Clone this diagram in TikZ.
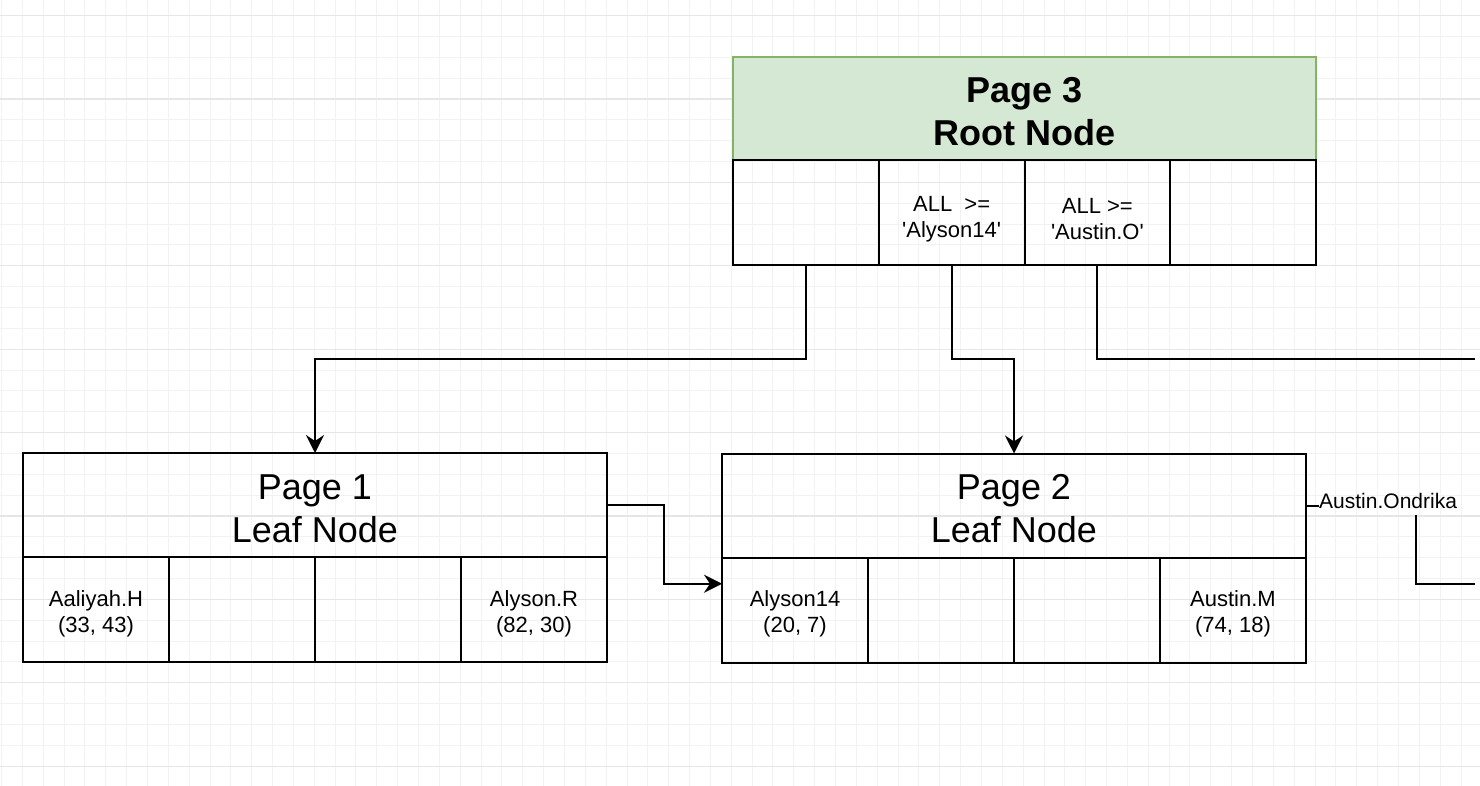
\documentclass[tikz,border=0pt]{standalone}
\usepackage{fontspec}
\setmainfont{Liberation Sans}
\usetikzlibrary{arrows.meta,calc,positioning}

\definecolor{rootfill}{HTML}{D5E8D4}
\definecolor{rootline}{HTML}{82B366}
\definecolor{gridminor}{HTML}{F2F2F2}
\definecolor{gridmajor}{HTML}{E6E6E6}

% struts that push the text down a little
\newcommand{\headstrut}{\rule{0pt}{32pt}}
\newcommand{\cellstrut}{\rule{0pt}{24pt}}
\newcommand{\keystrut}{\rule{0pt}{29pt}}

\tikzset{
  head/.style={draw=black, line width=2pt, minimum width=584pt, minimum height=104pt,
    inner sep=0pt, outer sep=0pt, align=center, font=\fontsize{36}{43}\selectfont},
  roothead/.style={head, fill=rootfill, draw=rootline, minimum width=583pt, minimum height=103pt,
    font=\bfseries\fontsize{36}{43}\selectfont},
  cell/.style={draw=black, line width=2pt, minimum width=146pt, minimum height=105pt,
    inner sep=0pt, outer sep=0pt, align=center, font=\fontsize{22}{26}\selectfont},
  rootcell/.style={cell, minimum width=145.75pt},
  link/.style={line width=2pt, -{Stealth[length=18pt,width=18pt,inset=6pt]}},
  plain/.style={line width=2pt},
}

\begin{document}
\begin{tikzpicture}[x=1pt,y=-1pt]
  \useasboundingbox (0,0) rectangle (1480,786);
  \fill[white] (0,0) rectangle (1480,786);
  % background grid
  \begin{scope}
    \clip (0,0) rectangle (1480,786);
    \draw[gridminor, line width=1pt, step=20.85pt, shift={(1.5,15.6)}] (-42,-42) grid (1500,800);
    \foreach \k in {0,...,9}
      \draw[gridmajor, line width=1.2pt] (0,15.6+83.4*\k) -- (1480,15.6+83.4*\k);
  \end{scope}

  % root page
  \node[roothead] (root) at (1024.5,108.5) {\headstrut Page 3\\Root Node};
  \node[rootcell, anchor=north west] (r0) at (root.south west) {};
  \node[rootcell, right=0pt of r0] (r1) {\keystrut ALL\ \ >=\\\textquotesingle Alyson14\textquotesingle};
  \node[rootcell, right=0pt of r1] (r2) {\keystrut ALL >=\\\textquotesingle Austin.O\textquotesingle};
  \node[rootcell, right=0pt of r2] (r3) {};

  % leaf page 1
  \node[head] (p1) at (315,505) {\headstrut Page 1\\Leaf Node};
  \node[cell, anchor=north west] (a0) at (p1.south west) {\cellstrut Aaliyah.H\\(33, 43)};
  \node[cell, right=0pt of a0] (a1) {};
  \node[cell, right=0pt of a1] (a2) {};
  \node[cell, right=0pt of a2] (a3) {\cellstrut Alyson.R\\(82, 30)};

  % leaf page 2
  \node[head] (p2) at (1014,505.5) {\headstrut Page 2\\Leaf Node};
  \node[cell, anchor=north west] (b0) at (p2.south west) {\cellstrut Alyson14\\(20, 7)};
  \node[cell, right=0pt of b0] (b1) {};
  \node[cell, right=0pt of b1] (b2) {};
  \node[cell, right=0pt of b2] (b3) {\cellstrut Austin.M\\(74, 18)};

  % next page, off to the right
  \node[anchor=west, inner sep=0pt, font=\fontsize{21}{25}\selectfont] (next) at (1319,501) {Austin.Ondrika};
  \coordinate (off1) at (1475,359);
  \coordinate (drop) at (1416,515);
  \coordinate (off2) at (1475,584);

  % pointers
  \draw[link] (r0.south) -- ++(0,94) -| (p1.north);
  \draw[link] (r1.south) -- ++(0,94) -| (p2.north);
  \draw[plain] (r2.south) |- (off1);
  \draw[link] (p1.east) -- ++(57,0) |- ($(b0.north west)!0.5!(b0.west)$);
  \draw[plain] (p2.east) -- (p2.east -| next.west);
  \draw[plain] (drop) |- (off2);
\end{tikzpicture}
\end{document}
